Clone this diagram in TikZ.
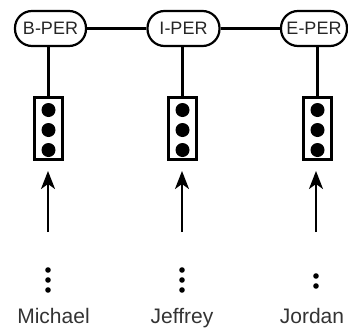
\documentclass[tikz,border=0pt]{standalone}
\usepackage{fontspec}
\setmainfont{Liberation Sans}
\usetikzlibrary{arrows.meta}
\begin{document}
\begin{tikzpicture}[x=1pt,y=-1pt,
  tag/.style={draw, line width=2.2pt, rounded corners=17pt, minimum height=35pt,
    inner sep=0pt, font=\fontsize{18}{20}\selectfont, text=black!85},
  cell/.style={draw, line width=3pt, minimum width=28pt, minimum height=62pt, inner sep=0pt},
  link/.style={line width=2.5pt},
  feedline/.style={line width=2.4pt, -{Stealth[length=18pt,width=14pt,inset=5pt]}},
  word/.style={font=\fontsize{21}{24}\selectfont, text=black!80, anchor=base},
  dot/.style={fill=black}
]
\useasboundingbox (0,0) rectangle (348,335);

% label nodes on the top chain
\node[tag, minimum width=71pt] (b) at (50.5,28.5) {B-PER};
\node[tag, minimum width=72pt] (i) at (183.5,28.5) {I-PER};
\node[tag, minimum width=66pt] (e) at (314,28.5) {E-PER};
\draw[link] (b) -- (i);
\draw[link] (i) -- (e);

% hidden-state boxes, each with three units
\foreach \n/\x in {hb/48.5, hi/182.5, he/317.5}{
  \node[cell] (\n) at (\x,128.5) {};
  \foreach \dy in {-20,0,20}
    \fill[dot] ([yshift=-\dy pt-1.5pt]\n.center) circle (7pt);
}
\draw[link] (b.south -| hb) -- (hb.north);
\draw[link] (i.south -| hi) -- (hi.north);
\draw[link] (e.south -| he) -- (he.north);

% input arrows: from the word position up to just under each box
\coordinate (ab) at (48,232);
\coordinate (ai) at (182,232);
\coordinate (ae) at (316,232);
\coordinate (tb) at (48,171);
\coordinate (ti) at (182,171);
\coordinate (te) at (316,171);
\draw[feedline] (ab) -- (tb);
\draw[feedline] (ai) -- (ti);
\draw[feedline] (ae) -- (te);

% elided sequence positions
\foreach \y in {270,280,290} \fill[dot] (48,\y) circle (2.8pt);
\foreach \y in {270,280,290} \fill[dot] (182,\y) circle (2.8pt);
\foreach \y in {276,286} \fill[dot] (316,\y) circle (2.8pt);

% words
\node[word] (wm) at (53.5,323) {Michael};
\node[word] (wj) at (182,323) {Jeffrey};
\node[word] (wo) at (312,323) {Jordan};
\end{tikzpicture}
\end{document}
